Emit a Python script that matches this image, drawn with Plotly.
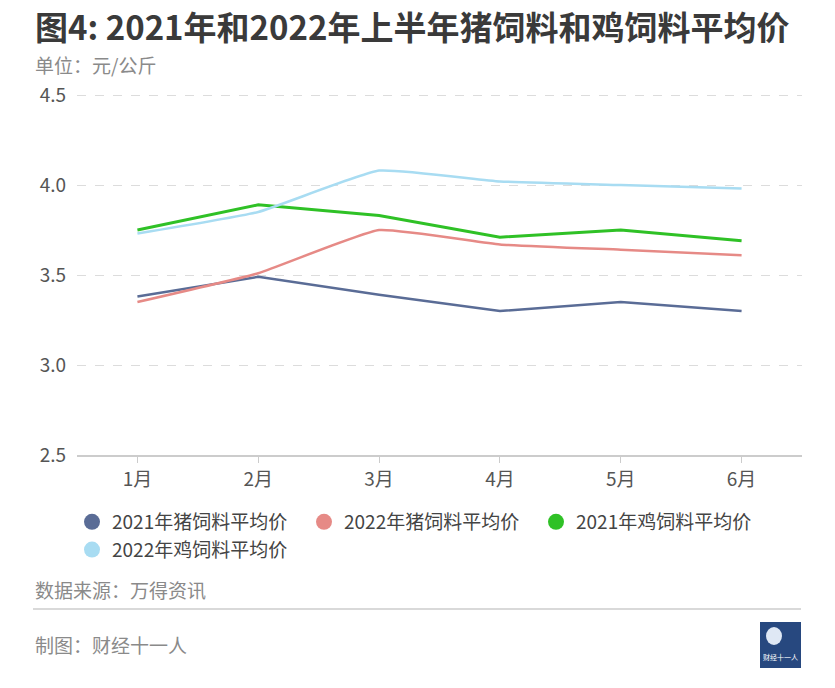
import plotly.graph_objects as go

months = ["1月", "2月", "3月", "4月", "5月", "6月"]
pig_2021 = [3.38, 3.49, 3.39, 3.30, 3.35, 3.30]
pig_2022 = [3.35, 3.51, 3.75, 3.67, 3.64, 3.61]
chicken_2021 = [3.75, 3.89, 3.83, 3.71, 3.75, 3.69]
chicken_2022 = [3.73, 3.85, 4.08, 4.02, 4.00, 3.98]
y_ticks = [2.5, 3.0, 3.5, 4.0, 4.5]
y_tick_labels = ["2.5", "3.0", "3.5", "4.0", "4.5"]

series = [
    ("2021年猪饲料平均价", pig_2021, "#5a6c96", 2.5, "linear"),
    ("2022年猪饲料平均价", pig_2022, "#e68a86", 2.5, "spline"),
    ("2021年鸡饲料平均价", chicken_2021, "#2fc126", 3, "linear"),
    ("2022年鸡饲料平均价", chicken_2022, "#a8dcf2", 2.5, "spline"),
]

W, H = 835, 688
L, R, T, B = 77, 33, 91, 233
FONT = "Noto Sans CJK SC"

fig = go.Figure()
for name, vals, color, width, shape in series:
    fig.add_trace(go.Scatter(
        x=months, y=vals, mode="lines", name=name,
        line=dict(color=color, width=width, shape=shape, smoothing=0.4),
        showlegend=False,
    ))
for name, vals, color, width, shape in series:
    fig.add_trace(go.Scatter(
        x=[None], y=[None], mode="markers", name=name,
        marker=dict(color=color, size=17, symbol="circle"),
        showlegend=True,
    ))

def px(xp):
    return (xp - L) / (W - L - R)

def py(yp):
    return (H - B - yp) / (H - T - B)

fig.update_layout(
    width=W, height=H,
    margin=dict(l=L, r=R, t=T, b=B),
    paper_bgcolor="white", plot_bgcolor="white",
    font=dict(family=FONT, size=19, color="#555555"),
    xaxis=dict(
        type="category", range=[-0.5, 5.5],
        showgrid=False, showline=True, linecolor="#cccccc", linewidth=1.5,
        ticks="outside", ticklen=6, tickcolor="#cccccc",
        tickfont=dict(size=19, color="#555555"),
        zeroline=False,
    ),
    yaxis=dict(
        range=[2.5, 4.5 + 4 / 180], tickvals=y_ticks, ticktext=y_tick_labels,
        showgrid=True, gridcolor="#dcdcdc", griddash="dash", gridwidth=1,
        showline=False, zeroline=False,
        tickfont=dict(size=19, color="#555555"),
        ticklabelstandoff=10,
    ),
    legend=dict(
        orientation="h", x=px(72), xanchor="left", y=py(503), yanchor="top",
        font=dict(size=19, color="#444444"),
        entrywidth=187, entrywidthmode="pixels",
        itemwidth=30, bgcolor="rgba(0,0,0,0)", tracegroupgap=0,
    ),
    showlegend=True,
)

annotations = [
    dict(text="<b>图4: 2021年和2022年上半年猪饲料和鸡饲料平均价</b>", x=px(33), y=py(26),
         font=dict(size=33, color="#3a3a3a", family=FONT)),
    dict(text="单位：元/公斤", x=px(33), y=py(64), font=dict(size=19, color="#8a8a8a", family=FONT)),
    dict(text="数据来源：万得资讯", x=px(33), y=py(589), font=dict(size=19, color="#8a8a8a", family=FONT)),
    dict(text="制图：财经十一人", x=px(33), y=py(644), font=dict(size=19, color="#8a8a8a", family=FONT)),
    dict(text="财经十一人", x=px(780), y=py(657), xanchor="center",
         font=dict(size=7, color="white", family=FONT)),
]
for a in annotations:
    a.setdefault("xanchor", "left")
    fig.add_annotation(xref="paper", yref="paper", yanchor="middle", showarrow=False, **a)

fig.add_shape(type="line", xref="paper", yref="paper", x0=px(33), x1=px(801),
              y0=py(609), y1=py(609), line=dict(color="#cccccc", width=1.5))
fig.add_shape(type="rect", xref="paper", yref="paper", x0=px(760), x1=px(801),
              y0=py(622), y1=py(668), line=dict(width=0), fillcolor="#27487f")
fig.add_shape(type="circle", xref="paper", yref="paper", x0=px(766), x1=px(782),
              y0=py(627), y1=py(645), line=dict(width=0), fillcolor="#dfe8f5")

fig.write_html("out.html", config={"displayModeBar": False},
               post_script="document.body.style.margin='0';")
